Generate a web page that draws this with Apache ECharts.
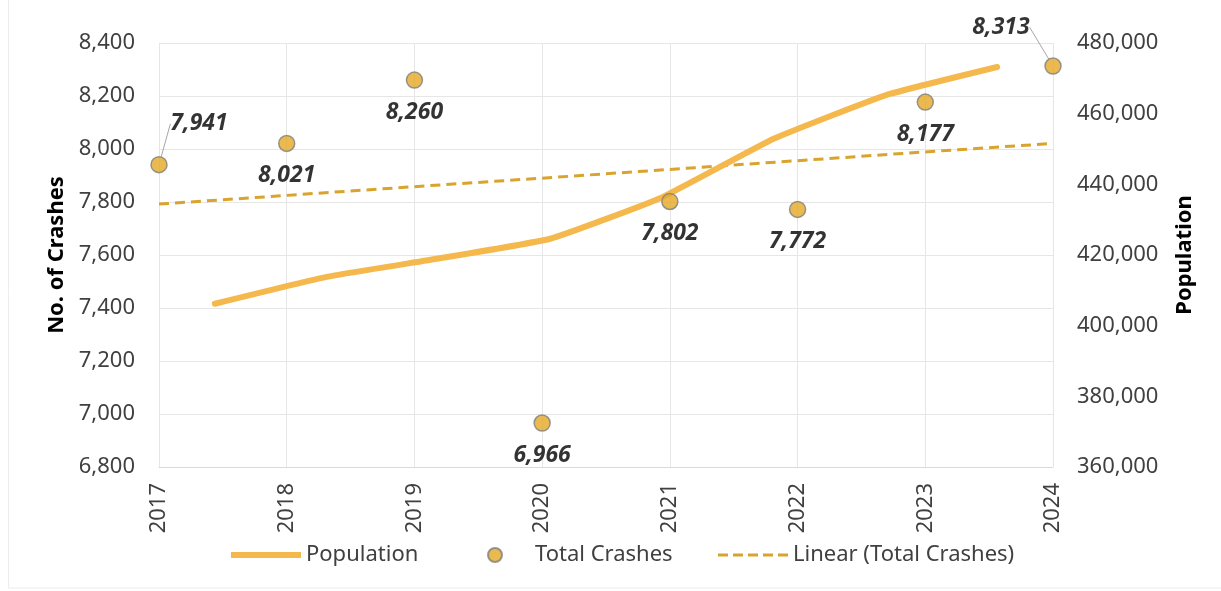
<!DOCTYPE html>
<html>
<head>
<meta charset="utf-8">
<script src="https://cdn.jsdelivr.net/npm/echarts@6/dist/echarts.min.js"></script>
<style>
  html, body { margin: 0; padding: 0; background: #fff; }
  #chart { width: 1221px; height: 591px; }
</style>
</head>
<body>
<div id="chart"></div>
<script>
// years on the x axis
var years = ["2017", "2018", "2019", "2020", "2021", "2022", "2023", "2024"];
// total crashes per year (left axis)
var totalCrashes = [7941, 8021, 8260, 6966, 7802, 7772, 8177, 8313];
// linear trend of crashes
var crashTrend = [7792, 7825, 7858, 7890, 7923, 7956, 7989, 8021];
// population (right axis)
var population = [406200, 413800, 419000, 424600, 436300, 452900, 465200, 473200];

var textColor = "#404040";
var fontFam = "'Noto Sans', 'DejaVu Sans', sans-serif";
var popColor = "#F5B84C";
var trendColor = "#D8A42E";

var crashData = totalCrashes.map(function (v, i) {
  var item = { value: v };
  if (i === 0 || i === totalCrashes.length - 1) {
    item.labelLine = { show: true, lineStyle: { color: "#a6a6a6", width: 1 } };
  }
  return item;
});

function legendAt(left, item) {
  return {
    bottom: 20,
    left: left,
    itemWidth: 70,
    itemHeight: 14,
    textStyle: { fontSize: 22, color: textColor, fontFamily: fontFam },
    data: [item]
  };
}

var chart = echarts.init(document.getElementById("chart"));
chart.setOption({
  animation: false,
  textStyle: { fontFamily: fontFam },
  grid: { left: 159, right: 168, top: 43, bottom: 124 },
  // faint outer frame of the original chart area
  graphic: [{
    type: "rect",
    shape: { x: 8.5, y: -2, width: 1300, height: 590 },
    style: { fill: "none", stroke: "#ececec", lineWidth: 1 },
    silent: true,
    z: -10
  }],
  legend: [
    legendAt(226, { name: "Population", icon: "path://M0,0H70V6H0Z", itemStyle: { color: popColor } }),
    legendAt(482, { name: "Total Crashes", icon: "circle" }),
    legendAt(713, {
      name: "Linear (Total Crashes)",
      icon: "path://M0,0H10V3H0Z M15,0H25V3H15Z M30,0H40V3H30Z M45,0H55V3H45Z M60,0H70V3H60Z",
      itemStyle: { color: trendColor }
    })
  ],
  xAxis: [
    {
      type: "category",
      data: years,
      boundaryGap: false,
      axisLine: { show: true, lineStyle: { color: "#d9d9d9" } },
      axisTick: { show: false },
      splitLine: { show: true, lineStyle: { color: "#e6e6e6" } },
      axisLabel: { rotate: 90, fontSize: 22, color: textColor, margin: 16 }
    },
    {
      // population is plotted centred in each band
      type: "category",
      data: years,
      boundaryGap: true,
      show: false
    }
  ],
  yAxis: [
    {
      type: "value",
      min: 6800,
      max: 8400,
      interval: 200,
      name: "No. of Crashes",
      nameLocation: "middle",
      nameGap: 88,
      nameTextStyle: { fontSize: 22, fontWeight: "bold", color: "#000" },
      axisLine: { show: false },
      axisTick: { show: false },
      splitLine: { lineStyle: { color: "#e6e6e6" } },
      axisLabel: {
        fontSize: 22, color: textColor, margin: 24,
        formatter: function (v) { return v.toLocaleString("en-US"); }
      }
    },
    {
      type: "value",
      min: 360000,
      max: 480000,
      interval: 20000,
      name: "Population",
      nameLocation: "middle",
      nameGap: 121,
      nameTextStyle: { fontSize: 22, fontWeight: "bold", color: "#000" },
      axisLine: { show: false },
      axisTick: { show: false },
      splitLine: { show: false },
      axisLabel: {
        fontSize: 22, color: textColor, margin: 24,
        formatter: function (v) { return v.toLocaleString("en-US"); }
      }
    }
  ],
  series: [
    {
      name: "Population",
      type: "line",
      xAxisIndex: 1,
      yAxisIndex: 1,
      data: population,
      symbol: "none",
      smooth: 0.12,
      lineStyle: { color: popColor, width: 6, cap: "round" },
      itemStyle: { color: popColor },
      z: 3
    },
    {
      name: "Total Crashes",
      type: "scatter",
      xAxisIndex: 0,
      yAxisIndex: 0,
      data: crashData,
      symbolSize: 16,
      itemStyle: { color: "#E5A823", borderColor: "#808080", borderWidth: 1.5 },
      label: {
        show: true,
        position: "bottom",
        distance: 12,
        fontSize: 23,
        fontWeight: "bold",
        fontStyle: "italic",
        color: "#000",
        formatter: function (p) { return p.value.toLocaleString("en-US"); }
      },
      labelLayout: function (p) {
        if (p.dataIndex === 0) return { dx: 40, dy: -73 };
        if (p.dataIndex === totalCrashes.length - 1) return { dx: -52, dy: -71 };
        return {};
      },
      z: 4
    },
    {
      name: "Linear (Total Crashes)",
      type: "line",
      xAxisIndex: 0,
      yAxisIndex: 0,
      data: crashTrend,
      symbol: "none",
      lineStyle: { color: trendColor, width: 3, type: [10, 6] },
      itemStyle: { color: trendColor },
      z: 2
    }
  ]
});
</script>
</body>
</html>
